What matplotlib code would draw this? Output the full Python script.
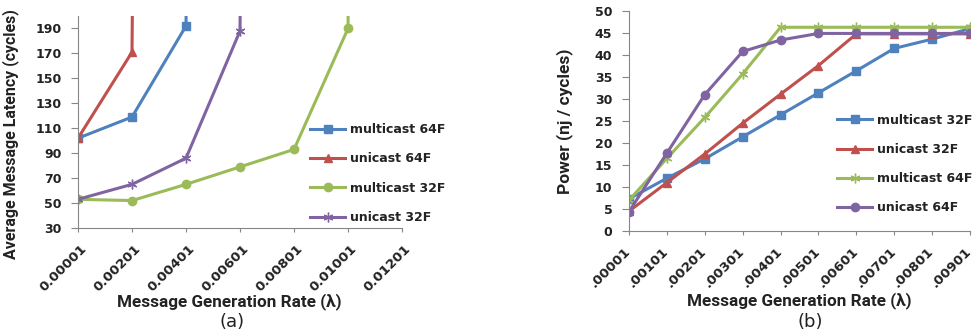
import matplotlib.pyplot as plt
from matplotlib.font_manager import FontProperties
from matplotlib.transforms import ScaledTranslation

plt.rcParams['font.family'] = ['DejaVu Sans']

# (a) latency data; huge last values mean the curve shoots off the top
rates_a = ['0.00001', '0.00201', '0.00401', '0.00601', '0.00801', '0.01001', '0.01201']
lat_mc64 = [102, 119, 192, 5000]
lat_uc64 = [102, 171, 5000]
lat_mc32 = [53, 52, 65, 79, 93, 190, 5000]
lat_uc32 = [53, 65, 86, 188, 5000]

# (b) power data
rates_b = ['.00001', '.00101', '.00201', '.00301', '.00401', '.00501',
           '.00601', '.00701', '.00801', '.00901']
pow_mc32 = [7.3, 12, 16.4, 21.4, 26.4, 31.4, 36.4, 41.5, 43.6, 46.0]
pow_uc32 = [4.5, 11, 17.5, 24.5, 31.1, 37.6, 44.8, 44.8, 44.8, 44.8]
pow_mc64 = [7.0, 16.5, 25.8, 35.7, 46.3, 46.3, 46.3, 46.3, 46.3, 46.3]
pow_uc64 = [4.4, 17.7, 31.0, 40.8, 43.4, 44.9, 44.9, 44.9, 44.9, 44.9]

blue = '#4F81BD'
red = '#C0504D'
green = '#9BBB59'
purple = '#8064A2'
axis_col = '#868686'
text_col = '#222222'
star = (6, 2, 0)

fig = plt.figure(figsize=(9.74, 3.34), dpi=100)
ax1 = fig.add_axes([78/974, 106/334, 324/974, 212/334])
ax2 = fig.add_axes([629/974, 103/334, 341/974, 220/334])

lw = 2.2
ax1.plot(range(len(lat_mc64)), lat_mc64, color=blue, lw=lw, marker='s', ms=6, label='multicast 64F')
ax1.plot(range(len(lat_uc64)), lat_uc64, color=red, lw=lw, marker='^', ms=6, label='unicast 64F')
ax1.plot(range(len(lat_mc32)), lat_mc32, color=green, lw=lw, marker='o', ms=6, label='multicast 32F')
ax1.plot(range(len(lat_uc32)), lat_uc32, color=purple, lw=lw, marker=star, ms=7, mew=1, label='unicast 32F')

ax1.set_xlim(0, len(rates_a) - 1)
ax1.set_ylim(30, 200)
ax1.set_yticks(range(30, 200, 20))
ax1.set_xticks(range(len(rates_a)))
ax1.set_xticklabels(rates_a, rotation=45, ha='right', rotation_mode='anchor')

ax2.plot(range(len(rates_b)), pow_mc32, color=blue, lw=lw, marker='s', ms=6, label='multicast 32F')
ax2.plot(range(len(rates_b)), pow_uc32, color=red, lw=lw, marker='^', ms=6, label='unicast 32F')
ax2.plot(range(len(rates_b)), pow_mc64, color=green, lw=lw, marker=star, ms=7, mew=1, label='multicast 64F')
ax2.plot(range(len(rates_b)), pow_uc64, color=purple, lw=lw, marker='o', ms=6, label='unicast 64F')

ax2.set_xlim(0, len(rates_b) - 1)
ax2.set_ylim(0, 50)
ax2.set_yticks(range(0, 51, 5))
ax2.set_xticks(range(len(rates_b)))
ax2.set_xticklabels(rates_b, rotation=45, ha='right', rotation_mode='anchor')

# axis titles
title_fp = FontProperties(family=['Roboto', 'DejaVu Sans'], weight='bold', size=12.3)
ylab_fp = FontProperties(family=['Roboto', 'DejaVu Sans'], weight='bold', size=11.5)
ylab_fp2 = FontProperties(family=['Roboto', 'DejaVu Sans'], weight='bold', size=12.5)
ax1.set_ylabel('Average Message Latency (cycles)', fontproperties=ylab_fp, color=text_col)
ax1.yaxis.set_label_coords(-0.182, 0.443)
ax1.set_xlabel('Message Generation Rate (λ)', fontproperties=title_fp, color=text_col, va='center')
ax1.xaxis.set_label_coords(0.468, -0.349)
ax2.set_ylabel('Power (nj / cycles)', fontproperties=ylab_fp2, color=text_col)
ax2.yaxis.set_label_coords(-0.164, 0.5)
ax2.set_xlabel('Message Generation Rate (λ)', fontproperties=title_fp, color=text_col, va='center')
ax2.xaxis.set_label_coords(0.5, -0.318)

for ax, dx in ((ax1, 2), (ax2, -5)):
    for s in ('top', 'right'):
        ax.spines[s].set_visible(False)
    for s in ('left', 'bottom'):
        ax.spines[s].set_color(axis_col)
    ax.tick_params(axis='y', colors=axis_col, labelcolor=text_col, labelsize=9, length=5, pad=7)
    ax.tick_params(axis='x', colors=axis_col, labelcolor=text_col, labelsize=9.5, length=3, pad=7)
    for lab in ax.get_xticklabels() + ax.get_yticklabels():
        lab.set_fontweight('bold')
    shift = ScaledTranslation(dx/100, 0, fig.dpi_scale_trans)
    for lab in ax.get_xticklabels():
        lab.set_transform(lab.get_transform() + shift)

ax1.legend(loc='center left', bbox_to_anchor=(310/974, 1 - 173.5/334), bbox_transform=fig.transFigure,
           frameon=False, prop={'size': 9, 'weight': 'bold'}, handlelength=2.8, labelspacing=1.3,
           handletextpad=0.4, borderaxespad=0, borderpad=0)
ax2.legend(loc='center left', bbox_to_anchor=(837/974, 1 - 164/334), bbox_transform=fig.transFigure,
           frameon=False, prop={'size': 9, 'weight': 'bold'}, handlelength=2.8, labelspacing=1.3,
           handletextpad=0.4, borderaxespad=0, borderpad=0)
for lg in (ax1.get_legend(), ax2.get_legend()):
    for t in lg.get_texts():
        t.set_color(text_col)

fig.text(232/974, 1 - 322/334, '(a)', fontsize=13, ha='center', va='center', color=text_col)
fig.text(810/974, 1 - 322/334, '(b)', fontsize=13, ha='center', va='center', color=text_col)

fig.savefig('out.png', dpi=100)
